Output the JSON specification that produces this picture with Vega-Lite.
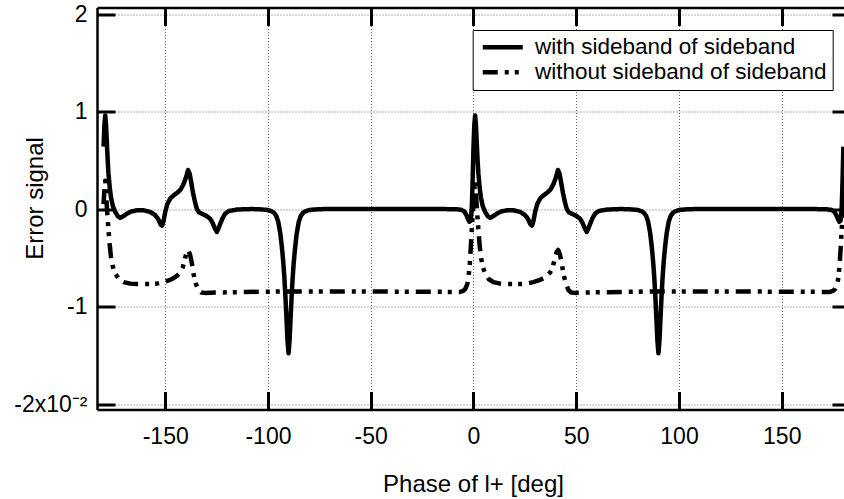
{
  "$schema": "https://vega.github.io/schema/vega-lite/v6.json",
  "width": 747,
  "height": 402,
  "autosize": "none",
  "padding": {"left": 97, "top": 7.5, "right": 0, "bottom": 89.5},
  "background": "white",
  "config": {
    "font": "Liberation Sans",
    "view": {"stroke": null},
    "axis": {
      "domainColor": "black", "domainWidth": 2.5, "tickColor": "black", "tickWidth": 3,
      "gridColor": "#666", "gridDash": [1, 2], "gridWidth": 1, "gridOpacity": 1,
      "labelFontSize": 23, "labelColor": "black", "labelFont": "Liberation Sans",
      "titleFontSize": 24, "titleFontWeight": "normal", "titleColor": "black", "titleFont": "Liberation Sans",
      "labelFlush": false, "labelOverlap": false
    }
  },
  "data": {
    "values": [
      {"x": -180, "y": 0.64, "s": "with"}, {"x": -179.6, "y": 0.86, "s": "with"}, {"x": -179.2, "y": 0.96, "s": "with"}, {"x": -178.8, "y": 0.86, "s": "with"}, {"x": -178.4, "y": 0.68, "s": "with"}, {"x": -178, "y": 0.5, "s": "with"}, {"x": -177.6, "y": 0.36, "s": "with"}, {"x": -177, "y": 0.22, "s": "with"}, {"x": -176.4, "y": 0.12, "s": "with"}, {"x": -175.5, "y": 0.03, "s": "with"}, {"x": -174.3, "y": -0.03, "s": "with"}, {"x": -173, "y": -0.075, "s": "with"}, {"x": -171.9, "y": -0.09, "s": "with"}, {"x": -170.5, "y": -0.075, "s": "with"}, {"x": -168.6, "y": -0.047, "s": "with"}, {"x": -166.5, "y": -0.025, "s": "with"}, {"x": -163.7, "y": -0.013, "s": "with"}, {"x": -160.5, "y": -0.013, "s": "with"}, {"x": -157.3, "y": -0.03, "s": "with"}, {"x": -155, "y": -0.06, "s": "with"}, {"x": -153.5, "y": -0.1, "s": "with"}, {"x": -152.2, "y": -0.16, "s": "with"}, {"x": -151.5, "y": -0.17, "s": "with"}, {"x": -150.8, "y": -0.12, "s": "with"}, {"x": -150, "y": -0.03, "s": "with"}, {"x": -149, "y": 0.05, "s": "with"}, {"x": -147.5, "y": 0.11, "s": "with"}, {"x": -145.9, "y": 0.14, "s": "with"}, {"x": -144, "y": 0.17, "s": "with"}, {"x": -142.5, "y": 0.2, "s": "with"}, {"x": -141, "y": 0.26, "s": "with"}, {"x": -139.8, "y": 0.33, "s": "with"}, {"x": -138.9, "y": 0.4, "s": "with"}, {"x": -138.1, "y": 0.36, "s": "with"}, {"x": -137.4, "y": 0.28, "s": "with"}, {"x": -136.5, "y": 0.17, "s": "with"}, {"x": -135.5, "y": 0.07, "s": "with"}, {"x": -134.6, "y": 0, "s": "with"}, {"x": -133.5, "y": -0.035, "s": "with"}, {"x": -132, "y": -0.05, "s": "with"}, {"x": -130, "y": -0.07, "s": "with"}, {"x": -128.1, "y": -0.1, "s": "with"}, {"x": -127, "y": -0.14, "s": "with"}, {"x": -125.8, "y": -0.2, "s": "with"}, {"x": -124.9, "y": -0.235, "s": "with"}, {"x": -124.1, "y": -0.2, "s": "with"}, {"x": -123.2, "y": -0.15, "s": "with"}, {"x": -122, "y": -0.09, "s": "with"}, {"x": -120.8, "y": -0.047, "s": "with"}, {"x": -119, "y": -0.02, "s": "with"}, {"x": -115, "y": -0.005, "s": "with"}, {"x": -108, "y": 0, "s": "with"}, {"x": -103, "y": -0.004, "s": "with"}, {"x": -100, "y": -0.01, "s": "with"}, {"x": -98, "y": -0.025, "s": "with"}, {"x": -97, "y": -0.04, "s": "with"}, {"x": -96, "y": -0.07, "s": "with"}, {"x": -95, "y": -0.13, "s": "with"}, {"x": -94, "y": -0.25, "s": "with"}, {"x": -93.5, "y": -0.34, "s": "with"}, {"x": -93, "y": -0.44, "s": "with"}, {"x": -92.5, "y": -0.56, "s": "with"}, {"x": -92, "y": -0.71, "s": "with"}, {"x": -91.5, "y": -0.9, "s": "with"}, {"x": -91, "y": -1.12, "s": "with"}, {"x": -90.5, "y": -1.35, "s": "with"}, {"x": -90, "y": -1.48, "s": "with"}, {"x": -89.5, "y": -1.35, "s": "with"}, {"x": -89, "y": -1.12, "s": "with"}, {"x": -88.5, "y": -0.9, "s": "with"}, {"x": -88, "y": -0.71, "s": "with"}, {"x": -87.5, "y": -0.56, "s": "with"}, {"x": -87, "y": -0.44, "s": "with"}, {"x": -86.5, "y": -0.34, "s": "with"}, {"x": -86, "y": -0.25, "s": "with"}, {"x": -85, "y": -0.13, "s": "with"}, {"x": -84, "y": -0.07, "s": "with"}, {"x": -83, "y": -0.04, "s": "with"}, {"x": -82, "y": -0.025, "s": "with"}, {"x": -80, "y": -0.01, "s": "with"}, {"x": -77, "y": -0.004, "s": "with"}, {"x": -72, "y": 0, "s": "with"}, {"x": -40, "y": 0, "s": "with"}, {"x": -15, "y": 0, "s": "with"}, {"x": -8, "y": -0.003, "s": "with"}, {"x": -6, "y": -0.008, "s": "with"}, {"x": -4.5, "y": -0.025, "s": "with"}, {"x": -3.5, "y": -0.06, "s": "with"}, {"x": -2.7, "y": -0.1, "s": "with"}, {"x": -2, "y": -0.13, "s": "with"}, {"x": -1.4, "y": -0.12, "s": "with"}, {"x": -0.8, "y": 0.02, "s": "with"}, {"x": -0.4, "y": 0.3, "s": "with"},
      {"x": 0, "y": 0.64, "s": "with"}, {"x": 0.4, "y": 0.86, "s": "with"}, {"x": 0.8, "y": 0.96, "s": "with"}, {"x": 1.2, "y": 0.86, "s": "with"}, {"x": 1.6, "y": 0.68, "s": "with"}, {"x": 2, "y": 0.5, "s": "with"}, {"x": 2.4, "y": 0.36, "s": "with"}, {"x": 3, "y": 0.22, "s": "with"}, {"x": 3.6, "y": 0.12, "s": "with"}, {"x": 4.5, "y": 0.03, "s": "with"}, {"x": 5.7, "y": -0.03, "s": "with"}, {"x": 7, "y": -0.075, "s": "with"}, {"x": 8.1, "y": -0.09, "s": "with"}, {"x": 9.5, "y": -0.075, "s": "with"}, {"x": 11.4, "y": -0.047, "s": "with"}, {"x": 13.5, "y": -0.025, "s": "with"}, {"x": 16.3, "y": -0.013, "s": "with"}, {"x": 19.5, "y": -0.013, "s": "with"}, {"x": 22.7, "y": -0.03, "s": "with"}, {"x": 25, "y": -0.06, "s": "with"}, {"x": 26.5, "y": -0.1, "s": "with"}, {"x": 27.8, "y": -0.16, "s": "with"}, {"x": 28.5, "y": -0.17, "s": "with"}, {"x": 29.2, "y": -0.12, "s": "with"}, {"x": 30, "y": -0.03, "s": "with"}, {"x": 31, "y": 0.05, "s": "with"}, {"x": 32.5, "y": 0.11, "s": "with"}, {"x": 34.1, "y": 0.14, "s": "with"}, {"x": 36, "y": 0.17, "s": "with"}, {"x": 37.5, "y": 0.2, "s": "with"}, {"x": 39, "y": 0.26, "s": "with"}, {"x": 40.2, "y": 0.33, "s": "with"}, {"x": 41.1, "y": 0.4, "s": "with"}, {"x": 41.9, "y": 0.36, "s": "with"}, {"x": 42.6, "y": 0.28, "s": "with"}, {"x": 43.5, "y": 0.17, "s": "with"}, {"x": 44.5, "y": 0.07, "s": "with"}, {"x": 45.4, "y": 0, "s": "with"}, {"x": 46.5, "y": -0.035, "s": "with"}, {"x": 48, "y": -0.05, "s": "with"}, {"x": 50, "y": -0.07, "s": "with"}, {"x": 51.9, "y": -0.1, "s": "with"}, {"x": 53, "y": -0.14, "s": "with"}, {"x": 54.2, "y": -0.2, "s": "with"}, {"x": 55.1, "y": -0.235, "s": "with"}, {"x": 55.9, "y": -0.2, "s": "with"}, {"x": 56.8, "y": -0.15, "s": "with"}, {"x": 58, "y": -0.09, "s": "with"}, {"x": 59.2, "y": -0.047, "s": "with"}, {"x": 61, "y": -0.02, "s": "with"}, {"x": 65, "y": -0.005, "s": "with"}, {"x": 72, "y": 0, "s": "with"}, {"x": 77, "y": -0.004, "s": "with"}, {"x": 80, "y": -0.01, "s": "with"}, {"x": 82, "y": -0.025, "s": "with"}, {"x": 83, "y": -0.04, "s": "with"}, {"x": 84, "y": -0.07, "s": "with"}, {"x": 85, "y": -0.13, "s": "with"}, {"x": 86, "y": -0.25, "s": "with"}, {"x": 86.5, "y": -0.34, "s": "with"}, {"x": 87, "y": -0.44, "s": "with"}, {"x": 87.5, "y": -0.56, "s": "with"}, {"x": 88, "y": -0.71, "s": "with"}, {"x": 88.5, "y": -0.9, "s": "with"}, {"x": 89, "y": -1.12, "s": "with"}, {"x": 89.5, "y": -1.35, "s": "with"}, {"x": 90, "y": -1.48, "s": "with"}, {"x": 90.5, "y": -1.35, "s": "with"}, {"x": 91, "y": -1.12, "s": "with"}, {"x": 91.5, "y": -0.9, "s": "with"}, {"x": 92, "y": -0.71, "s": "with"}, {"x": 92.5, "y": -0.56, "s": "with"}, {"x": 93, "y": -0.44, "s": "with"}, {"x": 93.5, "y": -0.34, "s": "with"}, {"x": 94, "y": -0.25, "s": "with"}, {"x": 95, "y": -0.13, "s": "with"}, {"x": 96, "y": -0.07, "s": "with"}, {"x": 97, "y": -0.04, "s": "with"}, {"x": 98, "y": -0.025, "s": "with"}, {"x": 100, "y": -0.01, "s": "with"}, {"x": 103, "y": -0.004, "s": "with"}, {"x": 108, "y": 0, "s": "with"}, {"x": 140, "y": 0, "s": "with"}, {"x": 165, "y": 0, "s": "with"}, {"x": 172, "y": -0.003, "s": "with"}, {"x": 174, "y": -0.008, "s": "with"}, {"x": 175.5, "y": -0.025, "s": "with"}, {"x": 176.5, "y": -0.06, "s": "with"}, {"x": 177.3, "y": -0.1, "s": "with"}, {"x": 178, "y": -0.13, "s": "with"}, {"x": 178.6, "y": -0.12, "s": "with"}, {"x": 179.2, "y": 0.02, "s": "with"}, {"x": 179.6, "y": 0.3, "s": "with"}, {"x": 180, "y": 0.64, "s": "with"},
      {"x": -180, "y": 0.05, "s": "without"}, {"x": -179.6, "y": 0.2, "s": "without"}, {"x": -179.2, "y": 0.29, "s": "without"}, {"x": -178.8, "y": 0.17, "s": "without"}, {"x": -178.4, "y": 0.02, "s": "without"}, {"x": -178, "y": -0.1, "s": "without"}, {"x": -177.6, "y": -0.22, "s": "without"}, {"x": -177, "y": -0.37, "s": "without"}, {"x": -176.4, "y": -0.49, "s": "without"}, {"x": -175.5, "y": -0.59, "s": "without"}, {"x": -174.3, "y": -0.66, "s": "without"}, {"x": -172.5, "y": -0.72, "s": "without"}, {"x": -170.3, "y": -0.75, "s": "without"}, {"x": -167, "y": -0.765, "s": "without"}, {"x": -163.8, "y": -0.77, "s": "without"}, {"x": -157.3, "y": -0.77, "s": "without"}, {"x": -154, "y": -0.765, "s": "without"}, {"x": -150.9, "y": -0.75, "s": "without"}, {"x": -148, "y": -0.73, "s": "without"}, {"x": -146, "y": -0.71, "s": "without"}, {"x": -144, "y": -0.68, "s": "without"}, {"x": -142.7, "y": -0.65, "s": "without"}, {"x": -141.5, "y": -0.6, "s": "without"}, {"x": -140.3, "y": -0.5, "s": "without"}, {"x": -139.5, "y": -0.44, "s": "without"}, {"x": -138.8, "y": -0.42, "s": "without"}, {"x": -137.9, "y": -0.47, "s": "without"}, {"x": -137, "y": -0.56, "s": "without"}, {"x": -136.3, "y": -0.66, "s": "without"}, {"x": -135, "y": -0.77, "s": "without"}, {"x": -133.8, "y": -0.83, "s": "without"}, {"x": -132.5, "y": -0.855, "s": "without"}, {"x": -130.6, "y": -0.86, "s": "without"}, {"x": -122, "y": -0.855, "s": "without"}, {"x": -93, "y": -0.845, "s": "without"}, {"x": -60, "y": -0.845, "s": "without"}, {"x": -30, "y": -0.848, "s": "without"}, {"x": -10, "y": -0.85, "s": "without"}, {"x": -6.5, "y": -0.85, "s": "without"}, {"x": -5, "y": -0.84, "s": "without"}, {"x": -4, "y": -0.82, "s": "without"}, {"x": -3, "y": -0.77, "s": "without"}, {"x": -2.4, "y": -0.7, "s": "without"}, {"x": -1.8, "y": -0.56, "s": "without"}, {"x": -1.3, "y": -0.39, "s": "without"}, {"x": -0.9, "y": -0.24, "s": "without"}, {"x": -0.5, "y": -0.1, "s": "without"},
      {"x": 0, "y": 0.05, "s": "without"}, {"x": 0.4, "y": 0.2, "s": "without"}, {"x": 0.8, "y": 0.29, "s": "without"}, {"x": 1.2, "y": 0.17, "s": "without"}, {"x": 1.6, "y": 0.02, "s": "without"}, {"x": 2, "y": -0.1, "s": "without"}, {"x": 2.4, "y": -0.22, "s": "without"}, {"x": 3, "y": -0.37, "s": "without"}, {"x": 3.6, "y": -0.49, "s": "without"}, {"x": 4.5, "y": -0.59, "s": "without"}, {"x": 5.7, "y": -0.66, "s": "without"}, {"x": 7.5, "y": -0.72, "s": "without"}, {"x": 9.7, "y": -0.75, "s": "without"}, {"x": 13, "y": -0.765, "s": "without"}, {"x": 16.2, "y": -0.77, "s": "without"}, {"x": 22.7, "y": -0.77, "s": "without"}, {"x": 26, "y": -0.765, "s": "without"}, {"x": 29.1, "y": -0.75, "s": "without"}, {"x": 32, "y": -0.73, "s": "without"}, {"x": 34, "y": -0.71, "s": "without"}, {"x": 36, "y": -0.68, "s": "without"}, {"x": 37.3, "y": -0.65, "s": "without"}, {"x": 38.5, "y": -0.6, "s": "without"}, {"x": 39.7, "y": -0.5, "s": "without"}, {"x": 40.5, "y": -0.44, "s": "without"}, {"x": 41.2, "y": -0.42, "s": "without"}, {"x": 42.1, "y": -0.47, "s": "without"}, {"x": 43, "y": -0.56, "s": "without"}, {"x": 43.7, "y": -0.66, "s": "without"}, {"x": 45, "y": -0.77, "s": "without"}, {"x": 46.2, "y": -0.83, "s": "without"}, {"x": 47.5, "y": -0.855, "s": "without"}, {"x": 49.4, "y": -0.86, "s": "without"}, {"x": 58, "y": -0.855, "s": "without"}, {"x": 87, "y": -0.845, "s": "without"}, {"x": 120, "y": -0.845, "s": "without"}, {"x": 150, "y": -0.848, "s": "without"}, {"x": 170, "y": -0.85, "s": "without"}, {"x": 173.5, "y": -0.85, "s": "without"}, {"x": 175, "y": -0.84, "s": "without"}, {"x": 176, "y": -0.82, "s": "without"}, {"x": 177, "y": -0.77, "s": "without"}, {"x": 177.6, "y": -0.7, "s": "without"}, {"x": 178.2, "y": -0.56, "s": "without"}, {"x": 178.7, "y": -0.39, "s": "without"}, {"x": 179.1, "y": -0.24, "s": "without"}, {"x": 179.5, "y": -0.1, "s": "without"}, {"x": 180, "y": 0.05, "s": "without"}
    ]
  },
  "layer": [
    {
      "mark": {"type": "line", "color": "black", "strokeWidth": 4.5, "strokeJoin": "round"},
      "encoding": {
        "x": {
          "field": "x", "type": "quantitative",
          "scale": {"domain": [-183.2, 180.3], "nice": false, "zero": false},
          "axis": {
            "orient": "bottom", "values": [-150, -100, -50, 0, 50, 100, 150],
            "title": "Phase of l+ [deg]", "grid": true, "tickSize": -18, "labelPadding": 34,
            "labelExpr": "'' + datum.value",
            "titleX": 376, "titleY": 82, "titleBaseline": "alphabetic", "titleAlign": "center"
          }
        },
        "y": {
          "field": "y", "type": "quantitative",
          "scale": {"domain": [-2.056, 2.067], "nice": false, "zero": false},
          "axis": {
            "orient": "left", "values": [-2, -1, 0, 1, 2],
            "title": "Error signal", "grid": true, "tickSize": -18, "labelPadding": 28,
            "labelExpr": "datum.value == -2 ? '-2x10⁻²' : '' + datum.value",
            "titleX": -62, "titleY": 190.5, "titleAngle": -90, "titleBaseline": "middle", "titleAlign": "center"
          }
        },
        "strokeDash": {
          "field": "s", "type": "nominal",
          "scale": {"domain": ["with", "without"], "range": [[1, 0], [15, 7, 4, 6, 4, 7]]},
          "legend": {
            "orient": "none", "legendX": 375.7, "legendY": 22.5, "title": null,
            "labelExpr": "datum.value == 'with' ? 'with sideband of sideband' : 'without sideband of sideband'",
            "fillColor": "white", "strokeColor": "black", "padding": 6, "rowPadding": 2,
            "symbolType": "M-3.6,0H16.4", "symbolSize": 16, "symbolStrokeWidth": 4.5,
            "symbolStrokeColor": "black", "symbolFillColor": "transparent",
            "labelFontSize": 22.5, "labelColor": "black", "labelFont": "Liberation Sans", "labelOffset": 33.8,
            "labelLimit": 0
          }
        }
      }
    },
    {
      "mark": {"type": "line", "opacity": 0},
      "encoding": {
        "x": {
          "field": "x", "type": "quantitative",
          "axis": {"orient": "top", "values": [-150, -100, -50, 0, 50, 100, 150], "labels": false, "grid": false, "title": null, "tickSize": -18}
        },
        "y": {
          "field": "y", "type": "quantitative",
          "axis": {"orient": "right", "values": [-2, -1, 0, 1, 2], "labels": false, "grid": false, "title": null, "tickSize": -12, "domain": false}
        }
      }
    }
  ],
  "resolve": {"axis": {"x": "independent", "y": "independent"}}
}
